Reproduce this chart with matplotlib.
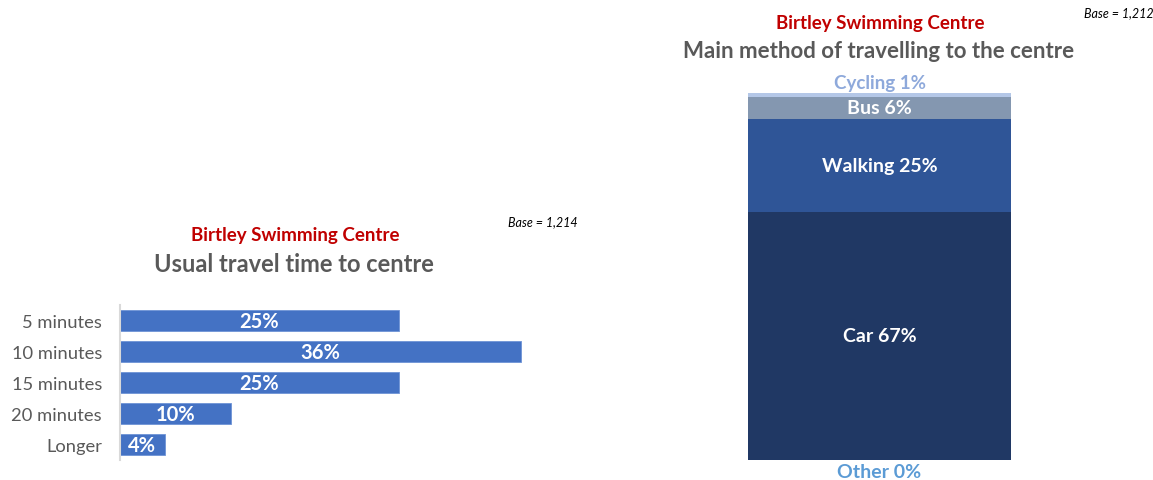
import matplotlib.pyplot as plt

plt.rcParams['font.family'] = ['Lato', 'DejaVu Sans']

W, H = 1153, 481

# ---------------------------------
# Data
# ---------------------------------

time_labels = ["5 minutes", "10 minutes", "15 minutes", "20 minutes", "Longer"]
time_values = [25, 36, 25, 10, 4]

method_labels = ["Car", "Walking", "Bus", "Cycling"]
method_values = [67, 25, 6, 1]
other_value = 0

RED = "#C00000"
GREY = "#595959"


def px_box(x0, y0, x1, y1):
    # pixel box (top-left origin) -> figure fraction rect
    return [x0 / W, 1 - y1 / H, (x1 - x0) / W, (y1 - y0) / H]


fig = plt.figure(figsize=(W / 100, H / 100), dpi=100)

# ---------------------------------
# Left: usual travel time
# ---------------------------------

ax1 = fig.add_axes(px_box(120, 306, 120 + 40 * 11.14, 461))

ypos = list(range(len(time_values)))
ax1.barh(ypos, time_values, height=0.70, color="#4472C4", edgecolor="#6E93D6", linewidth=0.6)

for y, v in zip(ypos, time_values):
    ax1.text(v / 2, y + 0.03, f"{v}%", ha="center", va="center", color="white",
             fontsize=14.5, fontweight="bold")

ax1.set_xlim(0, 40)
ax1.set_ylim(len(time_values) - 0.5, -0.5)
ax1.set_yticks(ypos)
ax1.set_yticklabels(time_labels, fontsize=13.2, color=GREY)
ax1.tick_params(axis="y", length=0, pad=13)
ax1.set_xticks([])

for side in ["top", "right", "bottom"]:
    ax1.spines[side].set_visible(False)

ax1.spines["left"].set_color("#D9D9D9")
ax1.spines["left"].set_linewidth(1.5)

fig.text(295 / W, 1 - 236 / H, "Birtley Swimming Centre", ha="center", va="center",
         color=RED, fontsize=13.5, fontweight="bold")
fig.text(294 / W, 1 - 265 / H, "Usual travel time to centre", ha="center", va="center",
         color=GREY, fontsize=17, fontweight="bold")
fig.text(543 / W, 1 - 222 / H, "Base = 1,214", ha="center", va="center",
         color="black", fontsize=9, style="italic")

# ---------------------------------
# Right: main method of travel
# ---------------------------------

ax2 = fig.add_axes(px_box(748, 94, 1011, 461))

colors = ["#203864", "#2F5597", "#8497B0", "#B4C7E7"]
text_colors = ["white", "white", "white", "#8EA9DB"]

bottom = 0
for label, v, c, tc in zip(method_labels, method_values, colors, text_colors):
    ax2.bar(0, v, bottom=bottom, width=1.0, color=c, edgecolor="none")
    if label == "Cycling":
        ax2.text(0, bottom + v + 2.8, f"{label} {v}%", ha="center", va="center",
                 color=tc, fontsize=13.5, fontweight="bold")
    else:
        ax2.text(0, bottom + v / 2, f"{label} {v}%", ha="center", va="center",
                 color=tc, fontsize=14, fontweight="bold")
    bottom += v

ax2.text(0, -3, f"Other {other_value}%", ha="center", va="center",
         color="#5B9BD5", fontsize=14, fontweight="bold")

ax2.set_xlim(-0.5, 0.5)
ax2.set_ylim(0, sum(method_values))
ax2.axis("off")

fig.text(880 / W, 1 - 24 / H, "Birtley Swimming Centre", ha="center", va="center",
         color=RED, fontsize=13.5, fontweight="bold")
fig.text(879 / W, 1 - 51 / H, "Main method of travelling to the centre", ha="center", va="center",
         color=GREY, fontsize=16, fontweight="bold")
fig.text(1119 / W, 1 - 13 / H, "Base = 1,212", ha="center", va="center",
         color="black", fontsize=9, style="italic")

fig.savefig("out.png", dpi=100)
